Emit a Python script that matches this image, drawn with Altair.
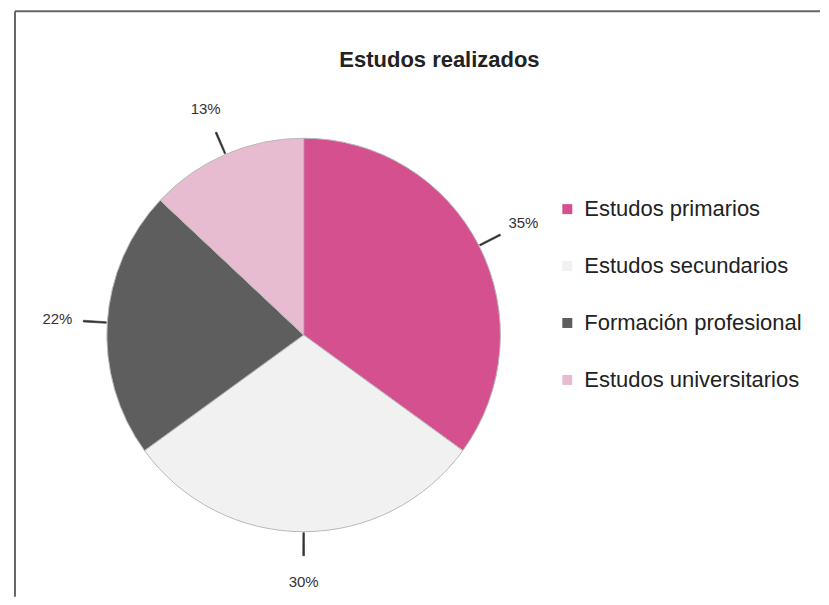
import altair as alt
import pandas as pd

# ---- data ----
categories = ["Estudos primarios", "Estudos secundarios", "Formación profesional", "Estudos universitarios"]
values = [35, 30, 22, 13]
labels = ["35%", "30%", "22%", "13%"]
colors = ["#D4508F", "#F1F1F1", "#5E5E5E", "#E8BCD0"]
title_text = ["Estudos realizados"]

df = pd.DataFrame({"cat": categories, "value": values, "label": labels,
                   "order": list(range(len(categories)))})

FONT = "Liberation Sans"
CX, CY, R = 296, 327, 197

base = alt.Chart(df).transform_window(
    cum="sum(value)", sort=[alt.SortField("order")], frame=[None, 0]
).transform_joinaggregate(total="sum(value)").transform_calculate(
    start="(datum.cum - datum.value) / datum.total * 2 * PI",
    end="datum.cum / datum.total * 2 * PI",
    mid="(datum.cum - datum.value / 2) / datum.total * 2 * PI",
).transform_calculate(
    mid_a="datum.mid - 0.004",
    mid_b="datum.mid + 0.004",
)

pie = base.mark_arc(outerRadius=R, stroke="#b8b8b8", strokeWidth=1).encode(
    theta=alt.Theta("start:Q", scale=None),
    theta2="end:Q",
    x=alt.value(CX),
    y=alt.value(CY),
    color=alt.Color(
        "cat:N",
        scale=alt.Scale(domain=categories, range=colors),
        legend=alt.Legend(
            orient="none", legendX=549, legendY=190, title=None,
            symbolType="square", symbolSize=100, symbolStrokeWidth=0,
            labelFontSize=22, labelFont=FONT, labelColor="#222222",
            rowPadding=35, labelOffset=6, padding=0, labelLimit=400,
        ),
    ),
    order=alt.Order("order:Q"),
)

leaders = base.mark_arc(innerRadius=R + 1, outerRadius=R + 24, fill="#333333",
                        stroke="#333333", strokeWidth=0.6).encode(
    theta=alt.Theta("mid_a:Q", scale=None),
    theta2="mid_b:Q",
    x=alt.value(CX),
    y=alt.value(CY),
)

pct = base.mark_text(radius=247, fontSize=15, font=FONT, color="#333333").encode(
    theta=alt.Theta("mid:Q", scale=None),
    x=alt.value(CX),
    y=alt.value(CY),
    text="label:N",
)

title = alt.Chart(pd.DataFrame({"t": title_text})).mark_text(
    fontSize=22, fontWeight="bold", font=FONT, color="#222222",
    align="center", baseline="middle",
).encode(text="t:N", x=alt.value(432), y=alt.value(52))

frame_df = pd.DataFrame({"a": [0]})
top_rule = alt.Chart(frame_df).mark_rule(color="#666666", strokeWidth=2).encode(
    x=alt.value(7), x2=alt.value(813), y=alt.value(3))
left_rule = alt.Chart(frame_df).mark_rule(color="#666666", strokeWidth=2).encode(
    x=alt.value(7), y=alt.value(3), y2=alt.value(589))

chart = alt.layer(pie, leaders, pct, title, top_rule, left_rule).properties(
    width=813, height=589, padding=0, background="white"
).configure_view(stroke=None)

chart.save("out.html", embed_options={"renderer": "svg", "actions": False})
